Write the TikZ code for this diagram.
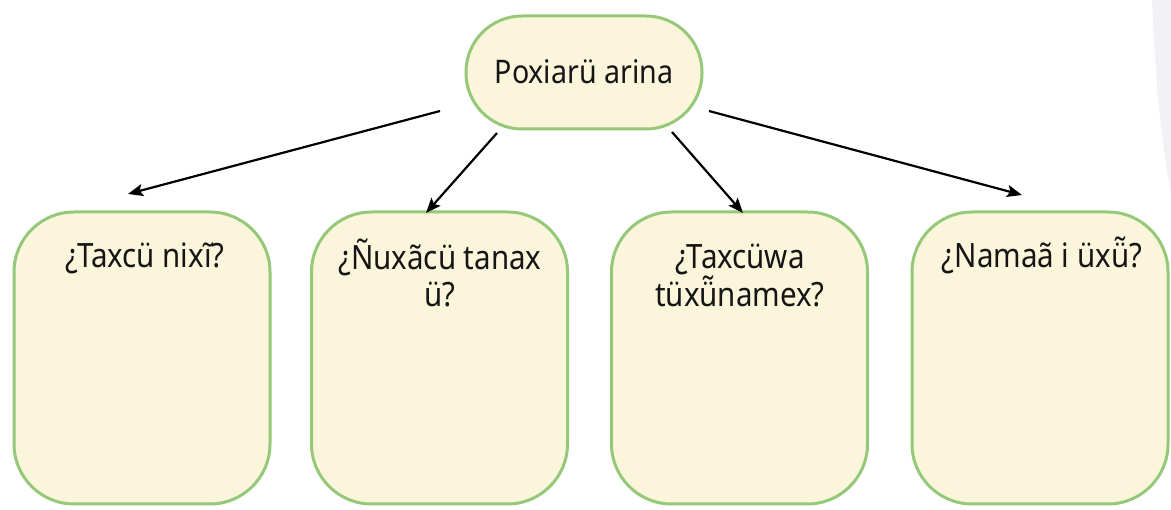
\documentclass[tikz,border=0pt]{standalone}
\usepackage{fontspec}
\setmainfont[FakeStretch=0.88]{Noto Sans}
\usetikzlibrary{arrows.meta}
\definecolor{boxfill}{HTML}{FBF5DC}
\definecolor{boxline}{HTML}{95C878}
\definecolor{ghost}{HTML}{F1F1F6}
\definecolor{ink}{HTML}{151515}
\begin{document}
\begin{tikzpicture}[x=1pt,y=-1pt,
  topbox/.style={draw=boxline,fill=boxfill,line width=3pt,rounded corners=56pt,
    minimum width=236pt,minimum height=113pt,inner sep=0pt},
  qbox/.style={draw=boxline,fill=boxfill,line width=3pt,rounded corners=60pt,
    minimum width=256pt,minimum height=292pt,inner sep=0pt},
  qtext/.style={text=ink,font=\fontsize{33.5}{37}\selectfont,inner sep=0pt,anchor=base,align=center},
  link/.style={draw=black,line width=2.2pt,-{Stealth[length=15pt,width=12pt,inset=3pt]}}]
\useasboundingbox (0,0) rectangle (1171,510);
\fill[ghost] (1152,0) .. controls (1156,90) and (1162,150) .. (1171,192) -- (1171,0) -- cycle;
\node[topbox] (top) at (584,72.5) {};
\node[qtext,font=\fontsize{32.5}{37}\selectfont] (toptxt) at (584,84) {Poxiarü arina};
\node[qbox] (b1) at (142,358) {};
\node[qbox] (b2) at (439.5,358) {};
\node[qbox] (b3) at (739.5,358) {};
\node[qbox] (b4) at (1040,358) {};
\node[qtext] (t1) at (145,268) {¿Taxcü nixĩ?};
\node[qtext] (t2) at (440,307) {¿Ñuxãcü tanax\\ü?};
\node[qtext] (t3) at (740,307) {¿Taxcüwa\\tüxü̃namex?};
\node[qtext] (t4) at (1042,268) {¿Namaã i üxü̃?};
\coordinate (s1) at (440,111);
\coordinate (e1) at (128,194);
\coordinate (s2) at (497,133);
\coordinate (e2) at (426,213);
\coordinate (s3) at (672,132);
\coordinate (e3) at (743,213);
\coordinate (s4) at (709,111);
\coordinate (e4) at (1022,195);
\draw[link] (s1) -- (e1);
\draw[link] (s2) -- (e2);
\draw[link] (s3) -- (e3);
\draw[link] (s4) -- (e4);
\end{tikzpicture}
\end{document}
